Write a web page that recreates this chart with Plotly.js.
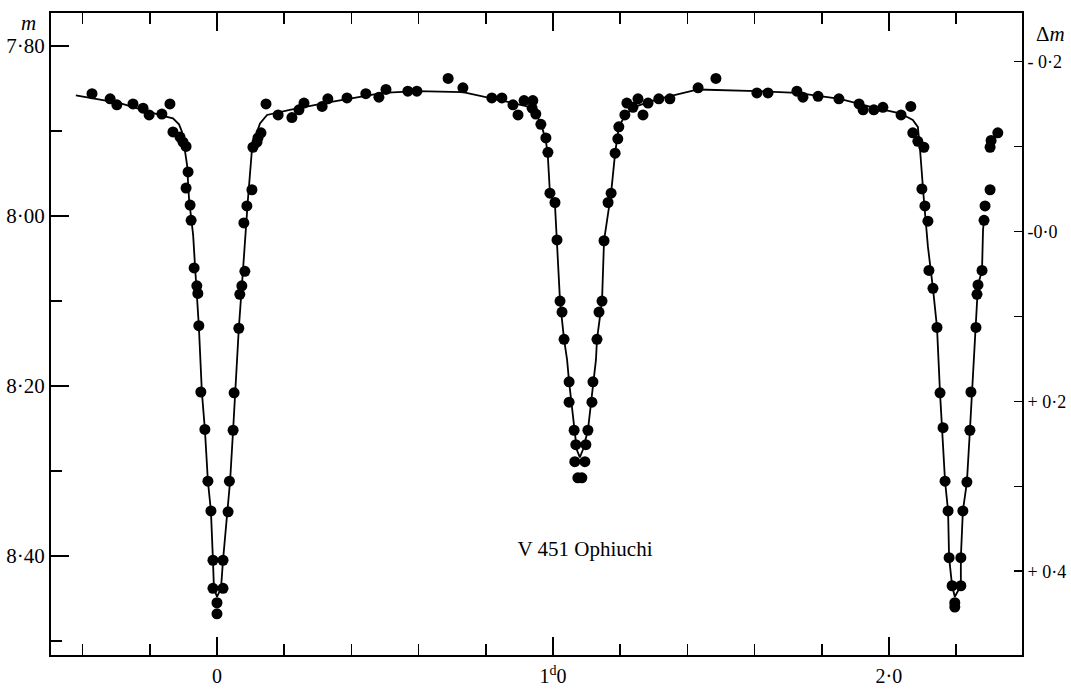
<!DOCTYPE html>
<html>
<head>
<meta charset="utf-8">
<script src="https://cdn.plot.ly/plotly-3.0.1.min.js"></script>
<style>
html,body{margin:0;padding:0;background:#ffffff;}
#chart{width:1071px;height:689px;}
</style>
</head>
<body>
<div id="chart"></div>
<script>
// Observed points: phase in days, magnitude m
const obsDays = [
  -0.372,-0.318,-0.298,-0.250,-0.220,-0.202,-0.164,-0.140,
  -0.131,-0.110,-0.101,-0.092,-0.086,-0.092,-0.080,-0.077,-0.068,-0.060,-0.057,-0.054,-0.048,-0.036,-0.027,-0.018,-0.012,-0.012,0.000,0.000,
  0.018,0.018,0.033,0.037,0.048,0.051,0.065,0.068,0.074,0.083,0.080,0.089,0.104,0.107,0.119,0.122,0.131,0.146,
  0.182,0.223,0.244,0.259,0.313,0.330,0.387,0.443,0.482,0.503,0.568,0.595,0.688,0.732,0.818,0.848,0.881,0.896,0.914,0.940,0.938,
  0.949,0.964,0.979,0.985,0.991,1.006,1.012,1.021,1.027,1.033,1.048,1.048,1.063,1.068,1.065,1.074,
  1.086,1.095,1.098,1.104,1.116,1.119,1.131,1.137,1.146,1.152,1.164,1.173,1.185,1.193,1.196,1.214,1.220,1.238,1.253,1.268,1.283,
  1.315,1.348,1.432,1.485,1.607,1.640,1.726,1.744,1.789,1.851,1.911,1.923,1.955,1.982,2.036,2.065,
  2.071,2.086,2.104,2.098,2.107,2.116,2.119,2.131,2.143,2.152,2.161,2.167,2.176,2.179,2.188,2.196,2.196,
  2.214,2.214,2.220,2.232,2.241,2.244,2.259,2.262,2.265,2.277,2.283,2.286,2.301,2.301,2.304,2.324
];
const obsMags = [
  7.856,7.862,7.869,7.868,7.873,7.881,7.880,7.868,
  7.901,7.907,7.913,7.918,7.948,7.967,7.987,8.005,8.061,8.082,8.091,8.129,8.207,8.251,8.312,8.347,8.405,8.438,8.455,8.468,
  8.405,8.438,8.348,8.312,8.252,8.208,8.132,8.092,8.082,8.065,8.008,7.988,7.969,7.919,7.913,7.908,7.902,7.868,
  7.881,7.884,7.875,7.867,7.871,7.862,7.861,7.856,7.860,7.851,7.853,7.853,7.838,7.849,7.861,7.861,7.869,7.881,7.864,7.864,7.873,
  7.880,7.892,7.908,7.925,7.973,7.984,8.028,8.100,8.113,8.145,8.195,8.219,8.252,8.269,8.289,8.308,
  8.308,8.289,8.269,8.252,8.219,8.195,8.145,8.113,8.100,8.029,7.984,7.973,7.926,7.909,7.895,7.881,7.867,7.872,7.862,7.881,7.867,
  7.862,7.862,7.849,7.838,7.855,7.855,7.853,7.860,7.859,7.862,7.868,7.875,7.875,7.872,7.881,7.871,
  7.902,7.912,7.919,7.968,7.988,8.006,8.064,8.085,8.131,8.208,8.249,8.312,8.347,8.402,8.435,8.455,8.460,
  8.402,8.435,8.347,8.313,8.252,8.207,8.131,8.092,8.081,8.064,8.005,7.988,7.969,7.919,7.911,7.902
];

// Drawn light curve
const curveDays = [
  -0.420,-0.289,-0.161,-0.131,-0.113,-0.104,-0.098,-0.089,-0.083,-0.071,-0.065,-0.054,-0.045,-0.036,-0.027,-0.018,-0.012,-0.009,0.000,
  0.012,0.018,0.030,0.039,0.048,0.054,0.065,0.077,0.083,0.092,0.104,0.113,0.128,0.149,0.217,0.336,0.494,0.595,0.732,0.818,0.881,0.923,
  0.952,0.967,0.979,0.985,0.991,1.006,1.012,1.021,1.033,1.042,1.048,1.063,1.071,1.080,
  1.089,1.104,1.119,1.128,1.131,1.146,1.152,1.173,1.185,1.196,1.214,1.238,1.315,1.432,1.607,1.726,1.854,1.952,2.033,2.071,
  2.086,2.092,2.104,2.116,2.131,2.143,2.152,2.167,2.176,2.179,2.188,2.196,
  2.214,2.214,2.220,2.232,2.241,2.259,2.265,2.277,2.280,2.283
];
const curveMags = [
  7.858,7.867,7.882,7.885,7.892,7.901,7.916,7.940,7.981,8.022,8.061,8.129,8.207,8.251,8.312,8.347,8.405,8.438,8.448,
  8.438,8.405,8.348,8.312,8.252,8.208,8.132,8.066,8.028,7.981,7.922,7.908,7.891,7.881,7.875,7.866,7.855,7.853,7.854,7.861,7.867,7.871,
  7.881,7.895,7.911,7.931,7.973,7.987,8.028,8.100,8.145,8.169,8.195,8.252,8.275,8.284,
  8.275,8.252,8.195,8.169,8.145,8.100,8.029,7.973,7.926,7.895,7.882,7.872,7.862,7.851,7.853,7.855,7.862,7.872,7.879,7.887,
  7.895,7.919,7.981,8.036,8.085,8.131,8.208,8.312,8.347,8.402,8.435,8.448,
  8.435,8.402,8.347,8.313,8.252,8.131,8.081,8.064,8.016,8.005
];

// Axis ticks
const xTickVals = [0, 1, 2];
const xTickText = ['0', '1<sup>d</sup>0', '2·0'];
const xMinorVals = [-0.4, -0.2, 0.2, 0.4, 0.6, 0.8, 1.2, 1.4, 1.6, 1.8, 2.2];
const mTickVals = [7.8, 8.0, 8.2, 8.4];
const mTickText = ['7·80', '8·00', '8·20', '8·40'];
const mMinorVals = [7.9, 8.1, 8.3, 8.5];
const dmTickVals = [-0.2, 0.0, 0.2, 0.4];
const dmTickText = ['- 0·2', '-0·0', '+ 0·2', '+ 0·4'];
const dmMinorVals = [-0.1, 0.1, 0.3];
const dmZero = 8.018; // magnitude corresponding to Δm = 0

const xRange = [-0.494, 2.396];
const mRange = [8.5165, 7.761];
const dmRange = [mRange[0] - dmZero, mRange[1] - dmZero];

const serif = 'Liberation Serif, Times New Roman, serif';

const traces = [
  {
    x: curveDays, y: curveMags, type: 'scatter', mode: 'lines',
    line: {color: '#000', width: 1.8}, hoverinfo: 'skip'
  },
  {
    x: obsDays, y: obsMags, type: 'scatter', mode: 'markers',
    marker: {color: '#000', size: 11}
  },
  {
    x: [xRange[0]], y: [0], yaxis: 'y2', type: 'scatter', mode: 'markers',
    marker: {opacity: 0}, hoverinfo: 'skip'
  }
];

const layout = {
  width: 1071, height: 689,
  margin: {l: 51, r: 49, t: 13, b: 34},
  paper_bgcolor: '#fff', plot_bgcolor: '#fff',
  showlegend: false,
  font: {family: serif, color: '#000', size: 21},
  title: {
    text: 'V 451 Ophiuchi',
    font: {family: serif, size: 21, color: '#000'},
    xref: 'paper', yref: 'paper', x: 0.55, y: 0.165,
    xanchor: 'center', yanchor: 'middle'
  },
  xaxis: {
    range: xRange, showgrid: false, zeroline: false,
    showline: true, linecolor: '#000', linewidth: 2, mirror: 'ticks',
    ticks: 'inside', ticklen: 18, tickwidth: 1.6, tickcolor: '#000',
    tickmode: 'array', tickvals: xTickVals, ticktext: xTickText,
    ticklabelstandoff: 2,
    tickfont: {family: serif, size: 20, color: '#000'},
    minor: {tickmode: 'array', tickvals: xMinorVals, ticks: 'inside', ticklen: 11, tickwidth: 1.6, tickcolor: '#000', showgrid: false}
  },
  yaxis: {
    range: mRange, showgrid: false, zeroline: false,
    showline: true, linecolor: '#000', linewidth: 2,
    ticks: 'inside', ticklen: 18, tickwidth: 1.6, tickcolor: '#000',
    tickmode: 'array', tickvals: mTickVals, ticktext: mTickText,
    tickfont: {family: serif, size: 21, color: '#000'},
    minor: {tickmode: 'array', tickvals: mMinorVals, ticks: 'inside', ticklen: 11, tickwidth: 1.6, tickcolor: '#000', showgrid: false}
  },
  yaxis2: {
    overlaying: 'y', side: 'right',
    range: dmRange, showgrid: false, zeroline: false,
    showline: true, linecolor: '#000', linewidth: 2,
    ticks: 'inside', ticklen: 8, tickwidth: 1.6, tickcolor: '#000',
    tickmode: 'array', tickvals: dmTickVals, ticktext: dmTickText,
    tickfont: {family: serif, size: 18, color: '#000'},
    minor: {tickmode: 'array', tickvals: dmMinorVals, ticks: 'inside', ticklen: 8, tickwidth: 1.6, tickcolor: '#000', showgrid: false}
  },
  annotations: [
    {text: '<i>m</i>', xref: 'paper', yref: 'paper', x: -0.0227, y: 0.984,
     xanchor: 'center', yanchor: 'middle', showarrow: false,
     font: {family: serif, size: 21, color: '#000'}},
    {text: 'Δ<i>m</i>', xref: 'paper', yref: 'paper', x: 1.029, y: 0.967,
     xanchor: 'center', yanchor: 'middle', showarrow: false,
     font: {family: serif, size: 21, color: '#000'}}
  ]
};

Plotly.newPlot('chart', traces, layout, {displayModeBar: false, staticPlot: true});
</script>
</body>
</html>
